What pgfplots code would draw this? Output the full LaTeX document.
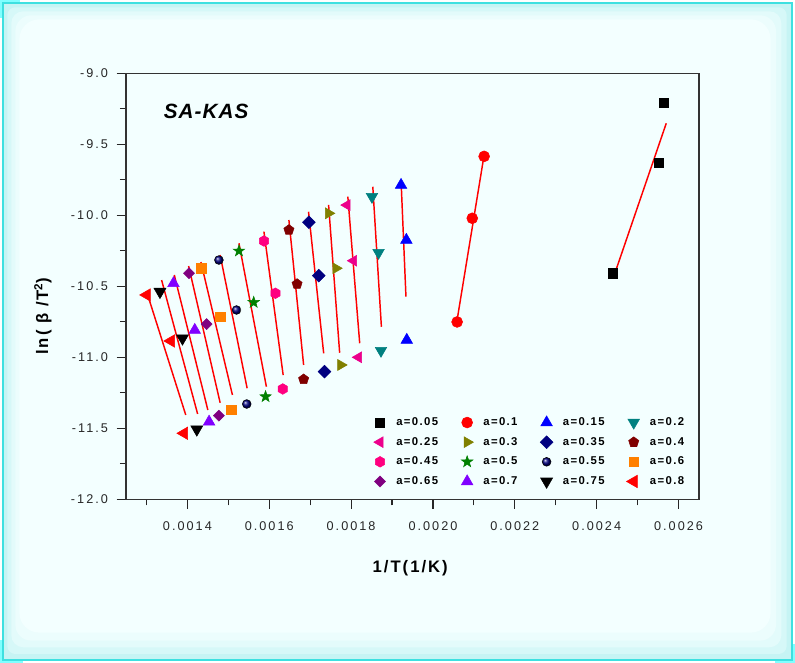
\documentclass[border=0pt]{standalone}
\usepackage{fontspec}
\setmainfont{Liberation Sans}
\newfontfamily\tickfont[LetterSpace=16]{Liberation Sans}
\newfontfamily\labfont[LetterSpace=12]{Liberation Sans}
\newfontfamily\titfont[LetterSpace=5]{Liberation Sans}
\usepackage{pgfplots}
\pgfplotsset{compat=1.18}
\usetikzlibrary{plotmarks}

\definecolor{bgc}{HTML}{F3FFFF}
\definecolor{glow1}{HTML}{C6F4F4}
\definecolor{glow2}{HTML}{D6F8F8}
\definecolor{glow3}{HTML}{E3FBFB}
\definecolor{glow4}{HTML}{ECFDFD}
\definecolor{framec}{HTML}{3EE0E0}
\definecolor{cornerc}{HTML}{80FFFF}
\definecolor{cteal}{HTML}{008080}
\definecolor{colive}{HTML}{808000}
\definecolor{cnavy}{HTML}{000080}
\definecolor{cmaroon}{HTML}{800000}
\definecolor{cpink}{HTML}{FF0080}
\definecolor{cgreen}{HTML}{008000}
\definecolor{corange}{HTML}{FF8000}
\definecolor{cpurple}{HTML}{800080}
\definecolor{cviolet}{HTML}{8000FF}

\pgfdeclareplotmark{hexagon*}{%
  \pgfpathmoveto{\pgfpointpolar{90}{\pgfplotmarksize}}%
  \pgfpathlineto{\pgfpointpolar{150}{\pgfplotmarksize}}%
  \pgfpathlineto{\pgfpointpolar{210}{\pgfplotmarksize}}%
  \pgfpathlineto{\pgfpointpolar{270}{\pgfplotmarksize}}%
  \pgfpathlineto{\pgfpointpolar{330}{\pgfplotmarksize}}%
  \pgfpathlineto{\pgfpointpolar{30}{\pgfplotmarksize}}%
  \pgfpathclose
  \pgfusepathqfillstroke}
\pgfdeclareplotmark{fstar}{%
  \pgfpathmoveto{\pgfpointpolar{90}{1.25\pgfplotmarksize}}%
  \pgfpathlineto{\pgfpointpolar{126}{0.5\pgfplotmarksize}}%
  \pgfpathlineto{\pgfpointpolar{162}{1.25\pgfplotmarksize}}%
  \pgfpathlineto{\pgfpointpolar{198}{0.5\pgfplotmarksize}}%
  \pgfpathlineto{\pgfpointpolar{234}{1.25\pgfplotmarksize}}%
  \pgfpathlineto{\pgfpointpolar{270}{0.5\pgfplotmarksize}}%
  \pgfpathlineto{\pgfpointpolar{306}{1.25\pgfplotmarksize}}%
  \pgfpathlineto{\pgfpointpolar{342}{0.5\pgfplotmarksize}}%
  \pgfpathlineto{\pgfpointpolar{18}{1.25\pgfplotmarksize}}%
  \pgfpathlineto{\pgfpointpolar{54}{0.5\pgfplotmarksize}}%
  \pgfpathclose
  \pgfusepathqfillstroke}

\begin{document}
\begin{tikzpicture}[x=1pt,y=1pt]
% page background and frame
\fill[white] (-94.5,-122.775) rectangle (501.75,374.475);
\fill[cornerc] (-94.5,374.475) rectangle (-79.5,360.975);
\fill[cornerc] (-94.5,-105.525) rectangle (-77.25,-122.775);
\fill[cornerc] (486.75,-108.525) rectangle (501.75,-122.775);
\fill[glow1] (-92.25,-120.525) rectangle (499.5,372.225);
\fill[glow2,rounded corners=6pt] (-89,-116) rectangle (495.5,369);
\fill[glow3,rounded corners=9pt] (-86,-111) rectangle (491.5,366);
\fill[glow4,rounded corners=12pt] (-83,-106) rectangle (487.5,363);
\fill[bgc,rounded corners=15pt] (-80,-100) rectangle (483.5,360);
\draw[framec,line width=1.5pt] (-92.25,-120.525) rectangle (499.5,372.225);

\begin{axis}[
  at={(0,0)}, anchor=south west,
  scale only axis, width=429.75pt, height=319.5pt,
  xmin=0.00125, xmax=0.00265, ymin=-12, ymax=-9,
  xtick={0.0014,0.0016,0.0018,0.0020,0.0022,0.0024,0.0026},
  minor xtick={0.0013,0.0015,0.0017,0.0019,0.0021,0.0023,0.0025},
  ytick={-12,-11.5,-11,-10.5,-10,-9.5,-9},
  minor ytick={-11.75,-11.25,-10.75,-10.25,-9.75,-9.25},
  scaled x ticks=false,
  xtick pos=left, ytick pos=left,
  tick align=outside,
  major tick length=7pt, minor tick length=4.5pt,
  every tick/.style={black!85, line width=0.9pt},
  axis line style={black!80, line width=1.1pt},
  axis background/.style={fill=bgc},
  /pgf/number format/assume math mode=true,
  tick label style={font=\tickfont\fontsize{9.5}{11}\selectfont, text=black!85},
  xticklabel style={/pgf/number format/.cd, fixed, fixed zerofill, precision=4},
  yticklabel style={/pgf/number format/.cd, fixed, fixed zerofill, precision=1},
  xticklabel shift=6.5pt,
  yticklabel shift=3pt,
  xlabel={1/T(1/K)},
  xlabel style={font=\labfont\bfseries\fontsize{12.5}{14}\selectfont, at={(axis description cs:0.496,-0.161)}, anchor=center},
  ylabel={ln( β /T$^{\mathbf 2}$)},
  ylabel style={font=\labfont\bfseries\fontsize{12.5}{14}\selectfont, at={(axis description cs:-0.145,0.43)}, anchor=center, rotate=0},
  every axis plot post/.append style={legend image code/.code={\path (-6pt,0pt) (10pt,0pt); \draw[##1] plot coordinates {(0pt,0pt)};}},
  legend columns=4,
  legend cell align=left,
  legend style={draw=none, fill=none, at={(axis description cs:0.4215,0.205)}, anchor=north west,
    font=\labfont\bfseries\fontsize{8.5}{10}\selectfont,
    row sep=3.3pt,
    /tikz/every even column/.append style={column sep=13.6pt}},
]
% data points (three heating rates per conversion)
\addplot[only marks, mark=square*, black, mark size=3.4pt] coordinates {(0.002440,-10.408) (0.002552,-9.630) (0.002565,-9.207)};
\addlegendentry{a=0.05}
\addplot[only marks, mark=*, red, mark size=4.1pt] coordinates {(0.002059,-10.751) (0.002096,-10.021) (0.002125,-9.585)};
\addlegendentry{a=0.1}
\addplot[only marks, mark=triangle*, blue, mark size=5pt] coordinates {(0.001922,-9.787) (0.001935,-10.174) (0.001936,-10.878)};
\addlegendentry{a=0.15}
\addplot[only marks, mark=triangle*, cteal, mark size=5pt, mark options={rotate=180}] coordinates {(0.001851,-9.869) (0.001867,-10.263) (0.001873,-10.953)};
\addlegendentry{a=0.2}
\addplot[only marks, mark=triangle*, magenta, mark size=4.7pt, mark options={rotate=90}] coordinates {(0.001790,-9.928) (0.001806,-10.320) (0.001818,-11.000)};
\addlegendentry{a=0.25}
\addplot[only marks, mark=triangle*, colive, mark size=4.7pt, mark options={rotate=-90}] coordinates {(0.001745,-9.986) (0.001763,-10.373) (0.001775,-11.054)};
\addlegendentry{a=0.3}
\addplot[only marks, mark=square*, cnavy, mark size=3.4pt, mark options={rotate=45}] coordinates {(0.001697,-10.049) (0.001721,-10.425) (0.001735,-11.101)};
\addlegendentry{a=0.35}
\addplot[only marks, mark=pentagon*, cmaroon, mark size=4pt] coordinates {(0.001648,-10.103) (0.001668,-10.484) (0.001684,-11.155)};
\addlegendentry{a=0.4}
\addplot[only marks, mark=hexagon*, cpink, mark size=4pt] coordinates {(0.001587,-10.181) (0.001615,-10.549) (0.001633,-11.223)};
\addlegendentry{a=0.45}
\addplot[only marks, mark=fstar, cgreen, mark size=3.6pt] coordinates {(0.001526,-10.251) (0.001562,-10.613) (0.001591,-11.277)};
\addlegendentry{a=0.5}
\addplot[only marks, mark=ball, mark size=3.3pt, mark options={ball color=cnavy}] coordinates {(0.001477,-10.315) (0.001520,-10.667) (0.001545,-11.329)};
\addlegendentry{a=0.55}
\addplot[only marks, mark=square*, corange, mark size=3.5pt] coordinates {(0.001434,-10.373) (0.001480,-10.714) (0.001507,-11.371)};
\addlegendentry{a=0.6}
\addplot[only marks, mark=square*, cpurple, mark size=2.9pt, mark options={rotate=45}] coordinates {(0.001404,-10.408) (0.001447,-10.766) (0.001477,-11.411)};
\addlegendentry{a=0.65}
\addplot[only marks, mark=triangle*, cviolet, mark size=5pt] coordinates {(0.001366,-10.479) (0.001418,-10.808) (0.001453,-11.454)};
\addlegendentry{a=0.7}
\addplot[only marks, mark=triangle*, black, mark size=5.2pt, mark options={rotate=180}] coordinates {(0.001333,-10.538) (0.001388,-10.866) (0.001423,-11.507)};
\addlegendentry{a=0.75}
\addplot[only marks, mark=triangle*, red, mark size=5.4pt, mark options={rotate=90}] coordinates {(0.001301,-10.561) (0.001360,-10.885) (0.001392,-11.535)};
\addlegendentry{a=0.8}
% linear fit lines
\addplot[red, line width=1.1pt, forget plot] coordinates {(0.002441,-10.437) (0.002570,-9.352)};
\addplot[red, line width=1.1pt, forget plot] coordinates {(0.002059,-10.737) (0.002125,-9.575)};
\addplot[red, line width=1.1pt, forget plot] coordinates {(0.001922,-9.751) (0.001934,-10.573)};
\addplot[red, line width=1.1pt, forget plot] coordinates {(0.001853,-9.799) (0.001874,-10.785)};
\addplot[red, line width=1.1pt, forget plot] coordinates {(0.001792,-9.869) (0.001821,-10.901)};
\addplot[red, line width=1.1pt, forget plot] coordinates {(0.001745,-9.927) (0.001772,-10.968)};
\addplot[red, line width=1.1pt, forget plot] coordinates {(0.001696,-9.975) (0.001733,-10.972)};
\addplot[red, line width=1.1pt, forget plot] coordinates {(0.001648,-10.033) (0.001684,-11.054)};
\addplot[red, line width=1.1pt, forget plot] coordinates {(0.001587,-10.115) (0.001634,-11.125)};
\addplot[red, line width=1.1pt, forget plot] coordinates {(0.001526,-10.197) (0.001593,-11.207)};
\addplot[red, line width=1.1pt, forget plot] coordinates {(0.001480,-10.280) (0.001546,-11.218)};
\addplot[red, line width=1.1pt, forget plot] coordinates {(0.001433,-10.329) (0.001510,-11.265)};
\addplot[red, line width=1.1pt, forget plot] coordinates {(0.001403,-10.357) (0.001480,-11.320)};
\addplot[red, line width=1.1pt, forget plot] coordinates {(0.001368,-10.420) (0.001450,-11.371)};
\addplot[red, line width=1.1pt, forget plot] coordinates {(0.001337,-10.456) (0.001425,-11.399)};
\addplot[red, line width=1.1pt, forget plot] coordinates {(0.001303,-10.561) (0.001396,-11.406)};
\node[anchor=west, font=\titfont\bfseries\itshape\fontsize{15.5}{18}\selectfont] at (axis description cs:0.058,0.91) {SA-KAS};
\end{axis}
\pgfresetboundingbox
\path[use as bounding box] (-94.5,-122.775) rectangle (501.75,374.475);
\end{tikzpicture}
\end{document}
